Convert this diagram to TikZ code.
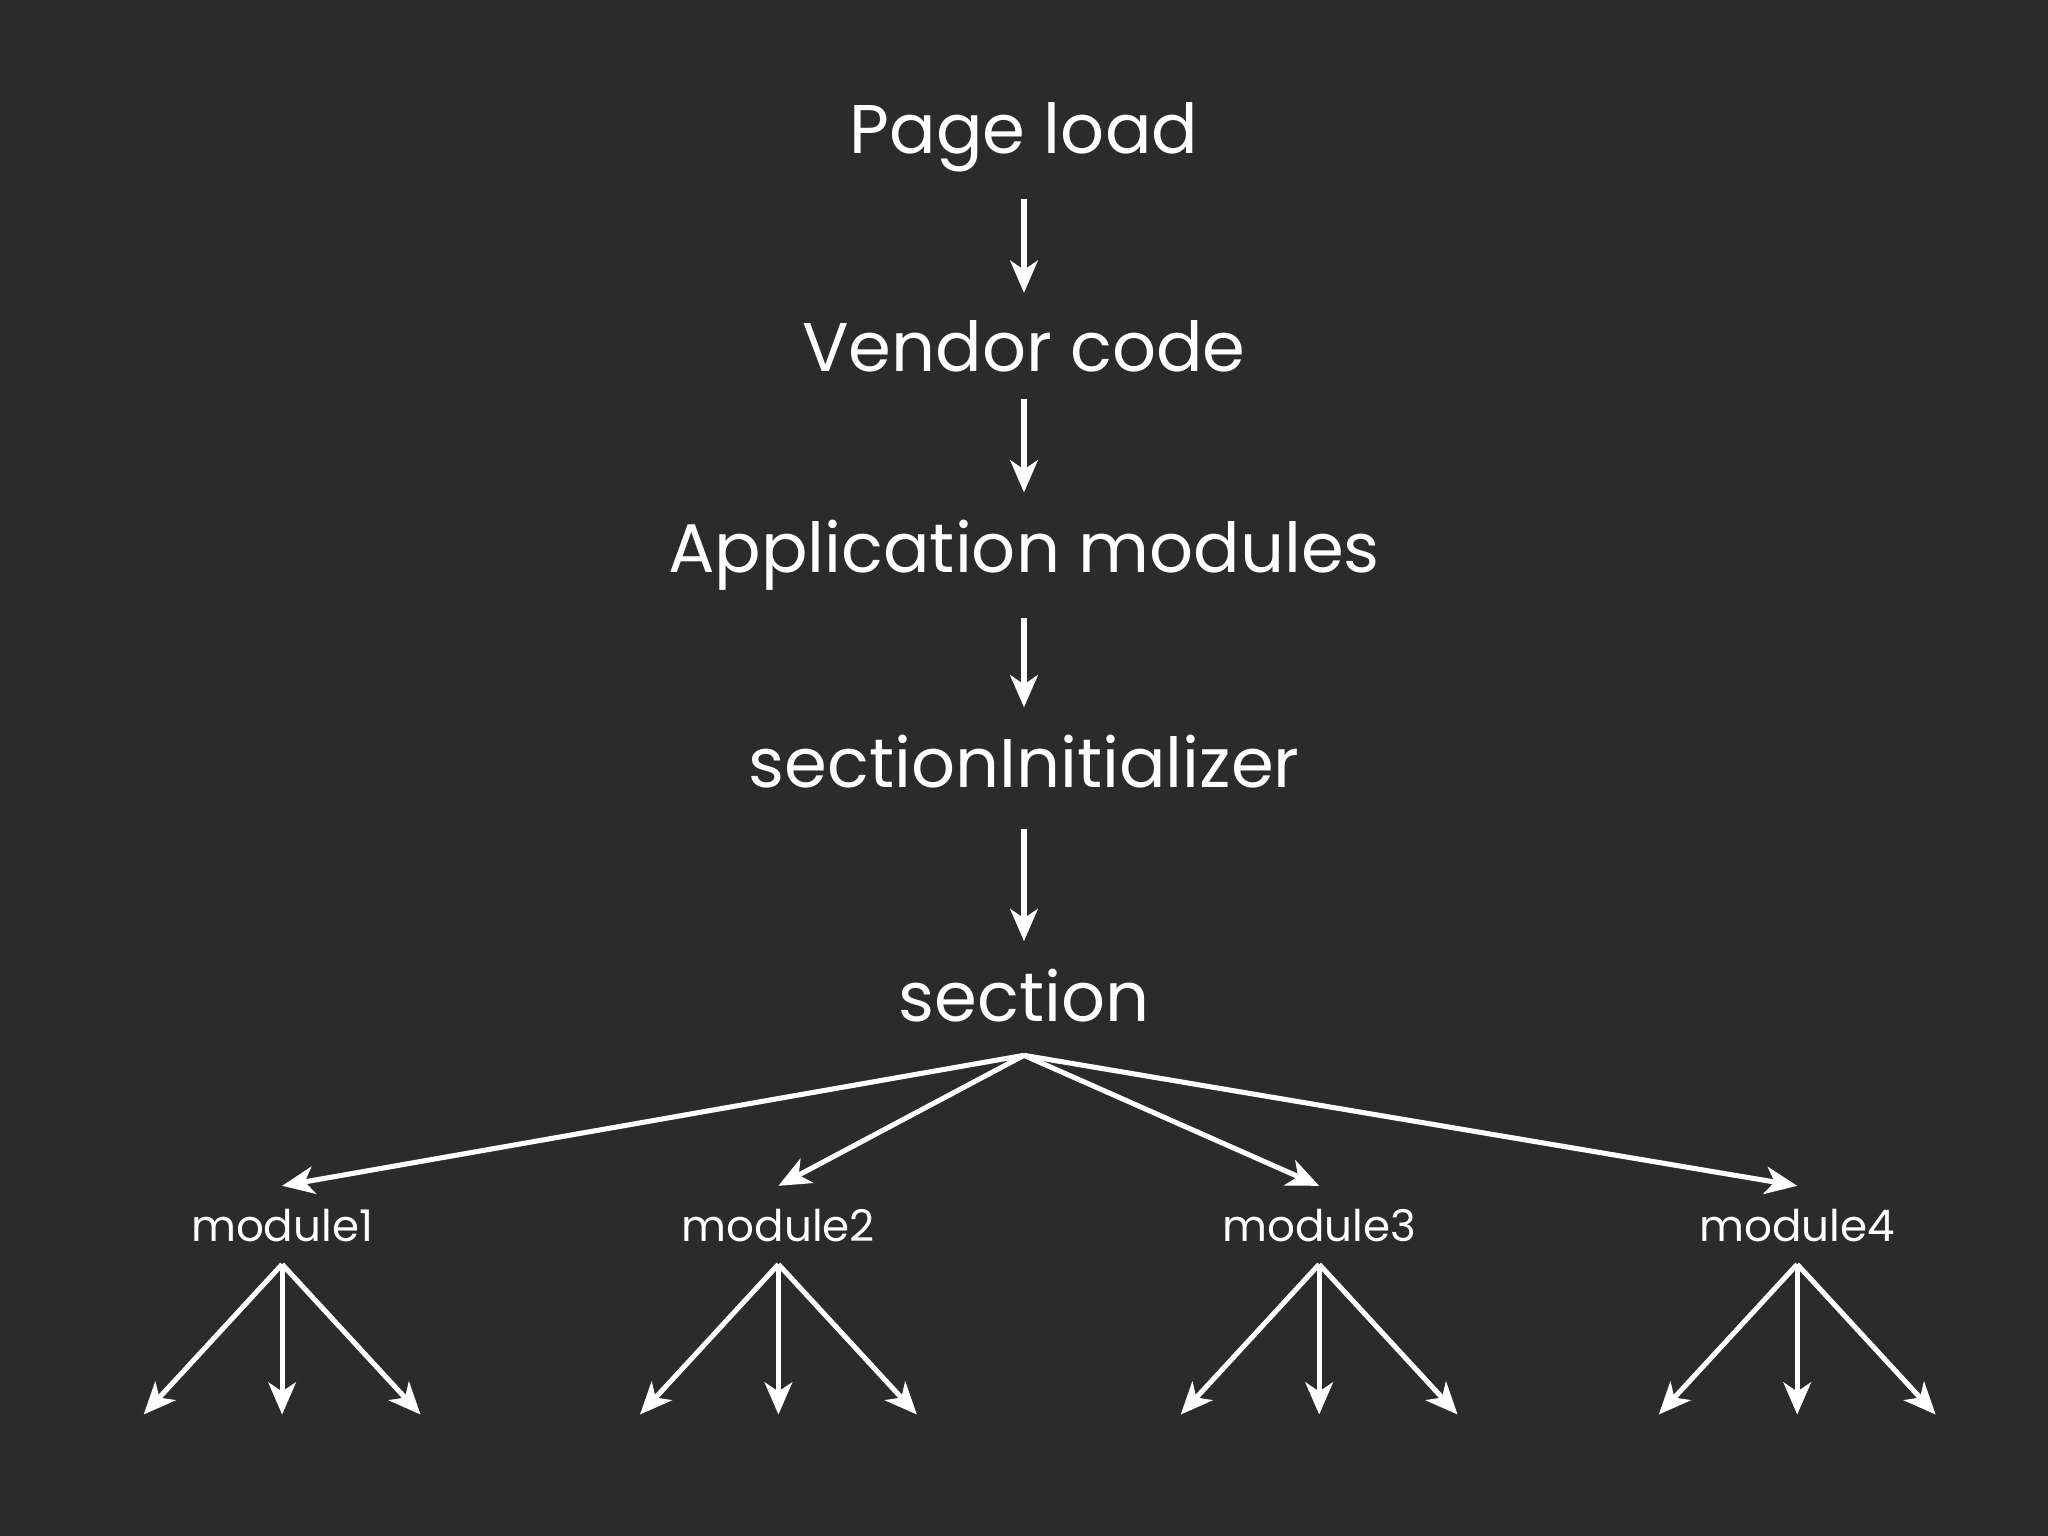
\documentclass[tikz,border=0pt]{standalone}
\usepackage{fontspec}
\setmainfont{Poppins}
\usetikzlibrary{arrows.meta,positioning}
\definecolor{bg}{HTML}{2B2B2B}
\begin{document}
\begin{tikzpicture}[x=0.01cm,y=-0.01cm,
    step node/.style={text=white,font=\fontsize{15}{18}\selectfont,inner sep=0pt,outer sep=6pt},
    mod node/.style={text=white,font=\fontsize{9.5}{11}\selectfont,inner sep=0pt,outer sep=5pt},
    link/.style={draw=white,line width=1.1pt,-{Stealth[length=7pt,width=6pt,inset=2pt]}}]
  \fill[bg] (0,0) rectangle (1568,1176);

  \node[step node] (page) at (784,105) {Page load};
  \node[step node] (vendor) at (784,265) {Vendor code};
  \node[step node] (app) at (784,425) {Application modules};
  \node[step node] (init) at (784,583) {sectionInitializer};
  \node[step node] (section) at (784,762) {section};

  \draw[link] (page) -- (vendor);
  \draw[link] (vendor) -- (app);
  \draw[link] (app) -- (init);
  \draw[link] (init.south) ++(0,10) coordinate (i0) (i0) -- (section.north);

  \coordinate (fan) at (784,808);
  \foreach \n/\x in {1/216,2/596,3/1010,4/1376} {
    \node[mod node] (m\n) at (\x,938) {module\n};
    \draw[link] (fan) -- (m\n.north);
    \coordinate (r\n) at (\x,968);
    \draw[link] (r\n) -- ++(-106,115);
    \draw[link] (r\n) -- ++(0,115);
    \draw[link] (r\n) -- ++(106,115);
  }
\end{tikzpicture}
\end{document}
